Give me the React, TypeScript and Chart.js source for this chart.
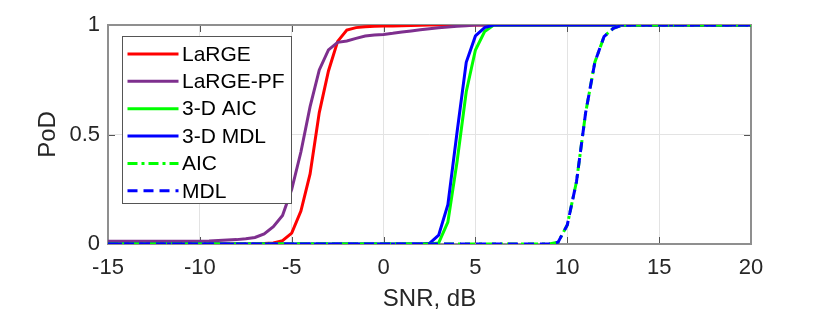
import React, { useEffect, useRef } from "react";
import { Chart, registerables } from "chart.js";

Chart.register(...registerables);

const FONT = "'Liberation Sans', Arial, Helvetica, sans-serif";

// SNR sample points, dB
const snr = [
  -15, -14.5, -14, -13.5, -13, -12.5, -12, -11.5, -11, -10.5,
  -10, -9.5, -9, -8.5, -8, -7.5, -7, -6.5, -6, -5.5,
  -5, -4.5, -4, -3.5, -3, -2.5, -2, -1.5, -1, -0.5,
  0, 0.5, 1, 1.5, 2, 2.5, 3, 3.5, 4, 4.5,
  5, 5.5, 6, 6.5, 7, 7.5, 8, 8.5, 9, 9.5,
  10, 10.5, 11, 11.5, 12, 12.5, 13, 13.5, 14, 14.5,
  15, 15.5, 16, 16.5, 17, 17.5, 18, 18.5, 19, 19.5,
  20,
];

const podLaRGE = [
  0, 0, 0, 0, 0, 0, 0, 0, 0, 0,
  0, 0, 0, 0, 0, 0, 0, 0.002, 0.005, 0.015,
  0.05, 0.15, 0.32, 0.6, 0.79, 0.925, 0.977, 0.988, 0.992, 0.994,
  0.995, 0.996, 0.997, 0.998, 0.999, 1, 1, 1, 1, 1,
  1, 1, 1, 1, 1, 1, 1, 1, 1, 1,
  1, 1, 1, 1, 1, 1, 1, 1, 1, 1,
  1, 1, 1, 1, 1, 1, 1, 1, 1, 1,
  1,
];

const podLaRGEPF = [
  0.012, 0.012, 0.012, 0.012, 0.012, 0.012, 0.012, 0.012, 0.012, 0.012,
  0.013, 0.014, 0.016, 0.018, 0.02, 0.024, 0.03, 0.046, 0.079, 0.13,
  0.25, 0.42, 0.627, 0.795, 0.886, 0.921, 0.927, 0.939, 0.95, 0.954,
  0.957, 0.962, 0.968, 0.973, 0.978, 0.983, 0.987, 0.991, 0.994, 0.997,
  1, 1, 1, 1, 1, 1, 1, 1, 1, 1,
  1, 1, 1, 1, 1, 1, 1, 1, 1, 1,
  1, 1, 1, 1, 1, 1, 1, 1, 1, 1,
  1,
];

const pod3DAIC = [
  0, 0, 0, 0, 0, 0, 0, 0, 0, 0,
  0, 0, 0, 0, 0, 0, 0, 0, 0, 0,
  0, 0, 0, 0, 0, 0, 0, 0, 0, 0,
  0, 0, 0, 0, 0, 0, 0.005, 0.1, 0.376, 0.695,
  0.886, 0.97, 1, 1, 1, 1, 1, 1, 1, 1,
  1, 1, 1, 1, 1, 1, 1, 1, 1, 1,
  1, 1, 1, 1, 1, 1, 1, 1, 1, 1,
  1,
];

const pod3DMDL = [
  0, 0, 0, 0, 0, 0, 0, 0, 0, 0,
  0, 0, 0, 0, 0, 0, 0, 0, 0, 0,
  0, 0, 0, 0, 0, 0, 0, 0, 0, 0,
  0, 0, 0, 0, 0, 0.003, 0.04, 0.18, 0.51, 0.83,
  0.95, 0.988, 1, 1, 1, 1, 1, 1, 1, 1,
  1, 1, 1, 1, 1, 1, 1, 1, 1, 1,
  1, 1, 1, 1, 1, 1, 1, 1, 1, 1,
  1,
];

const podAIC = [
  0, 0, 0, 0, 0, 0, 0, 0, 0, 0,
  0, 0, 0, 0, 0, 0, 0, 0, 0, 0,
  0, 0, 0, 0, 0, 0, 0, 0, 0, 0,
  0, 0, 0, 0, 0, 0, 0, 0, 0, 0,
  0, 0, 0, 0, 0, 0, 0, 0, 0, 0.008,
  0.087, 0.284, 0.6, 0.83, 0.947, 0.985, 1, 1, 1, 1,
  1, 1, 1, 1, 1, 1, 1, 1, 1, 1,
  1,
];

const podMDL = [
  0, 0, 0, 0, 0, 0, 0, 0, 0, 0,
  0, 0, 0, 0, 0, 0, 0, 0, 0, 0,
  0, 0, 0, 0, 0, 0, 0, 0, 0, 0,
  0, 0, 0, 0, 0, 0, 0, 0, 0, 0,
  0, 0, 0, 0, 0, 0, 0, 0, 0, 0.008,
  0.087, 0.284, 0.6, 0.83, 0.947, 0.985, 1, 1, 1, 1,
  1, 1, 1, 1, 1, 1, 1, 1, 1, 1,
  1,
];

const seriesLabels = ["LaRGE", "LaRGE-PF", "3-D AIC", "3-D MDL", "AIC", "MDL"];
const seriesValues = [podLaRGE, podLaRGEPF, pod3DAIC, pod3DMDL, podAIC, podMDL];
const seriesColors = ["#ff0000", "#7e2f8e", "#00ff00", "#0000ff", "#00ff00", "#0000ff"];
const seriesDashes: number[][] = [[], [], [], [], [10, 4, 3, 4], [10, 6]];

const xTicks = [-15, -10, -5, 0, 5, 10, 15, 20];
const yTicks = [0, 0.5, 1];
const yTickLabels = ["0", "0.5", "1"];

const boxPlugin = {
  id: "matlabBox",
  beforeDatasetsDraw(chart: any) {
    const { ctx, chartArea: a, scales } = chart;
    ctx.save();
    ctx.strokeStyle = "#555555";
    ctx.lineWidth = 1;
    const xs = scales.x;
    const ys = scales.y;
    xs.ticks.forEach((t: any) => {
      const px = Math.round(xs.getPixelForValue(t.value)) + 0.5;
      ctx.beginPath();
      ctx.moveTo(px, a.bottom);
      ctx.lineTo(px, a.bottom - 7);
      ctx.moveTo(px, a.top);
      ctx.lineTo(px, a.top + 7);
      ctx.stroke();
    });
    ys.ticks.forEach((t: any) => {
      const py = Math.round(ys.getPixelForValue(t.value)) + 0.5;
      ctx.beginPath();
      ctx.moveTo(a.left, py);
      ctx.lineTo(a.left + 7, py);
      ctx.moveTo(a.right, py);
      ctx.lineTo(a.right - 7, py);
      ctx.stroke();
    });
    ctx.strokeStyle = "#8f8f8f";
    ctx.lineWidth = 2;
    ctx.strokeRect(a.left, a.top, a.right - a.left, a.bottom - a.top);
    ctx.restore();
  },
};

const legendPlugin = {
  id: "matlabLegend",
  afterDraw(chart: any) {
    const { ctx, chartArea: a } = chart;
    const bx = Math.round(a.left + 14) + 0.5;
    const by = Math.round(a.top + 11) + 0.5;
    const bw = 169;
    const bh = 167;
    ctx.save();
    ctx.fillStyle = "#ffffff";
    ctx.fillRect(bx, by, bw, bh);
    ctx.strokeStyle = "#555555";
    ctx.lineWidth = 1;
    ctx.strokeRect(bx, by, bw, bh);
    ctx.font = `21px ${FONT}`;
    ctx.textBaseline = "middle";
    ctx.textAlign = "left";
    chart.data.datasets.forEach((ds: any, i: number) => {
      const cy = by + 17.5 + i * 27.35;
      ctx.strokeStyle = ds.borderColor;
      ctx.lineWidth = ds.borderWidth;
      ctx.setLineDash(ds.borderDash || []);
      ctx.beginPath();
      ctx.moveTo(bx + 5, cy);
      ctx.lineTo(bx + 56, cy);
      ctx.stroke();
      ctx.setLineDash([]);
      ctx.fillStyle = "#000000";
      ctx.fillText(ds.label, bx + 59.5, cy + 1);
    });
    ctx.restore();
  },
};

export default function App() {
  const ref = useRef<HTMLCanvasElement | null>(null);

  useEffect(() => {
    if (!ref.current) return;
    const datasets = seriesLabels.map((label, i) => ({
      label,
      data: snr.map((x, j) => ({ x, y: seriesValues[i][j] })),
      borderColor: seriesColors[i],
      backgroundColor: seriesColors[i],
      borderWidth: 3,
      borderDash: seriesDashes[i],
      pointRadius: 0,
      tension: 0,
      fill: false,
      order: seriesLabels.length - 1 - i,
    }));
    const chart = new Chart(ref.current, {
      type: "line",
      data: { datasets },
      plugins: [boxPlugin, legendPlugin],
      options: {
        responsive: false,
        animation: false,
        events: [],
        layout: { padding: { top: 25, right: 79, bottom: 0, left: 0 } },
        plugins: { legend: { display: false }, tooltip: { enabled: false } },
        scales: {
          x: {
            type: "linear",
            min: -15,
            max: 20,
            afterFit: (s: any) => {
              s.height = 72;
            },
            afterBuildTicks: (s: any) => {
              s.ticks = xTicks.map((v) => ({ value: v }));
            },
            ticks: {
              color: "#262626",
              font: { family: FONT, size: 22 },
              padding: 11,
              maxRotation: 0,
              autoSkip: false,
              callback: (v: any) => String(v),
            },
            grid: { color: "#e3e3e3", drawTicks: false, lineWidth: 1 },
            border: { display: false },
            title: {
              display: true,
              text: "SNR, dB",
              color: "#262626",
              font: { family: FONT, size: 24 },
              padding: { top: 0, bottom: 2 },
            },
          },
          y: {
            type: "linear",
            min: 0,
            max: 1,
            afterFit: (s: any) => {
              s.width = 108;
            },
            afterBuildTicks: (s: any) => {
              s.ticks = yTicks.map((v) => ({ value: v }));
            },
            ticks: {
              color: "#262626",
              font: { family: FONT, size: 22 },
              padding: 8,
              autoSkip: false,
              callback: (v: any) => yTickLabels[yTicks.indexOf(Number(v))] ?? String(v),
            },
            grid: { color: "#e3e3e3", drawTicks: false, lineWidth: 1 },
            border: { display: false },
            title: {
              display: true,
              text: "PoD",
              color: "#262626",
              font: { family: FONT, size: 24 },
              padding: { top: 34, bottom: 0 },
            },
          },
        },
      },
    } as any);
    return () => chart.destroy();
  }, []);

  return (
    <div style={{ position: "absolute", left: 0, top: 0, width: 830, height: 316, background: "#ffffff" }}>
      <canvas ref={ref} width={830} height={316} style={{ width: 830, height: 316, display: "block" }} />
    </div>
  );
}
